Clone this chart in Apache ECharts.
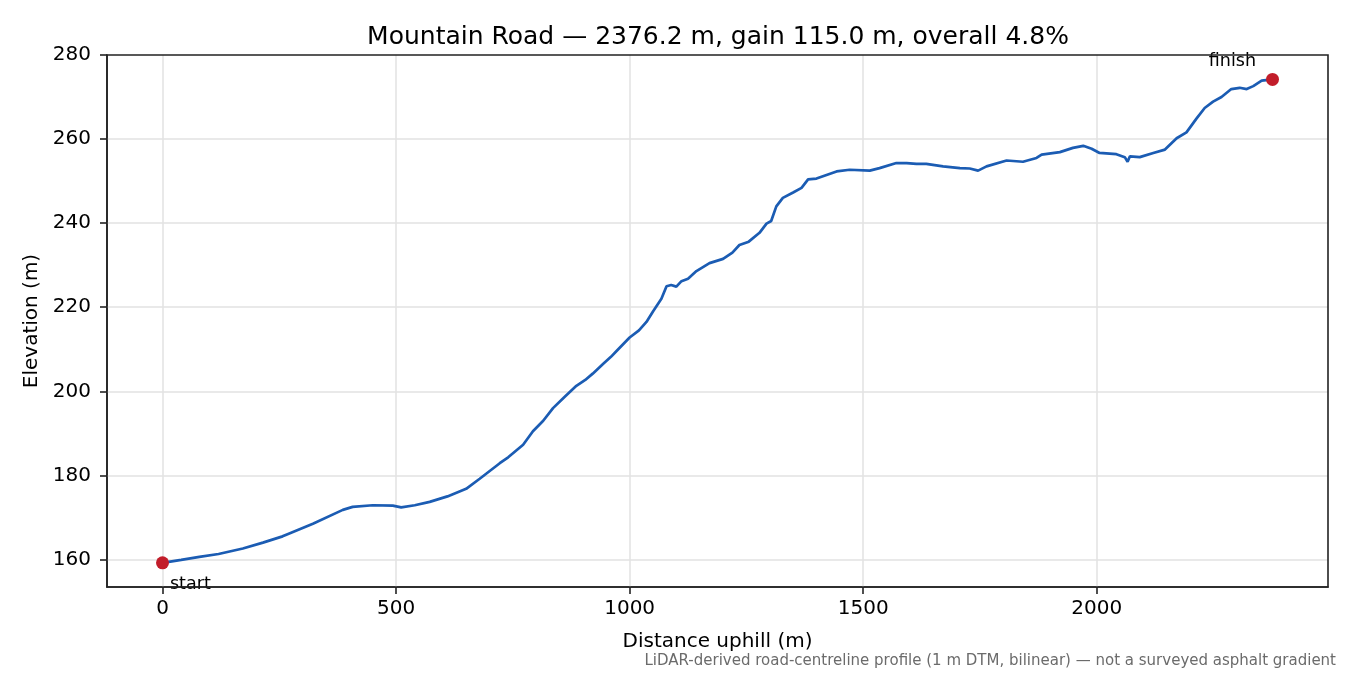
<!DOCTYPE html>
<html>
<head>
<meta charset="utf-8">
<script src="https://cdn.jsdelivr.net/npm/echarts@6/dist/echarts.min.js"></script>
<style>
html,body{margin:0;padding:0;background:#fff;}
#chart{width:1350px;height:675px;}
</style>
</head>
<body>
<div id="chart"></div>
<script>
const titleText = 'Mountain Road — 2376.2 m, gain 115.0 m, overall 4.8%';
const xName = 'Distance uphill (m)';
const yName = 'Elevation (m)';
const footnote = 'LiDAR-derived road-centreline profile (1 m DTM, bilinear) — not a surveyed asphalt gradient';

const distances = [0,40,79,120,172,215,257,265,322,386,407,450,493,511,540,572,610,650,679,722,740,772,793,815,836,860,886,905,921,943,960,972,1000,1020,1036,1050,1068,1079,1089,1100,1111,1125,1143,1171,1200,1220,1235,1255,1278,1293,1303,1314,1328,1350,1368,1382,1400,1443,1471,1514,1535,1571,1593,1614,1635,1671,1707,1728,1746,1764,1807,1842,1871,1882,1921,1949,1971,1989,2006,2042,2060,2066,2071,2092,2121,2146,2171,2192,2213,2231,2249,2267,2288,2306,2321,2335,2353,2376.2];
const elevations = [159.2,159.9,160.6,161.3,162.6,164.0,165.5,165.9,168.5,171.8,172.5,172.9,172.8,172.4,172.9,173.7,175.0,176.8,179.2,182.9,184.3,187.3,190.5,193.0,196.0,198.6,201.3,202.7,204.2,206.5,208.2,209.6,212.8,214.5,216.5,219.0,222.0,225.0,225.3,224.9,226.2,226.8,228.6,230.5,231.5,233.0,234.8,235.6,237.7,239.9,240.5,244.0,246.0,247.3,248.4,250.4,250.6,252.3,252.7,252.5,253.1,254.3,254.3,254.1,254.1,253.5,253.1,253.0,252.5,253.5,254.9,254.6,255.5,256.3,256.9,257.9,258.4,257.7,256.7,256.4,255.7,254.6,255.9,255.7,256.7,257.5,260.2,261.6,264.8,267.4,268.9,270.0,271.9,272.2,271.9,272.6,273.9,274.2];

const markerNames = ['start', 'finish'];
const markerX = [0, 2376.2];
const markerY = [159.2, 274.2];

const xTicks = [0, 500, 1000, 1500, 2000];
const yTicks = [160, 180, 200, 220, 240, 260, 280];

const X_MIN = -118.81, X_MAX = 2495.01, Y_MIN = 153.45, Y_MAX = 280;

const chart = echarts.init(document.getElementById('chart'), null, {renderer: 'canvas'});
const font = 'DejaVu Sans';
const axisColor = '#222';

const lineData = distances.map((d, i) => [d, elevations[i]]);
const markerData = markerNames.map((n, i) => ({
  name: n,
  value: [markerX[i], markerY[i]],
  label: i === 0
    ? {show: true, formatter: n, position: [14, 19], align: 'left', verticalAlign: 'top', color: '#000', fontSize: 17.5, fontFamily: font}
    : {show: true, formatter: n, position: [-10, -2], align: 'right', verticalAlign: 'bottom', color: '#000', fontSize: 17.5, fontFamily: font}
}));

const gridLines = [
  ...xTicks.filter(v => v > X_MIN && v < X_MAX).map(v => ({xAxis: v})),
  ...yTicks.filter(v => v > Y_MIN && v < Y_MAX).map(v => ({yAxis: v}))
];

chart.setOption({
  backgroundColor: '#fff',
  animation: false,
  textStyle: {fontFamily: font},
  title: {
    text: titleText,
    left: 713, top: 20, textAlign: 'center',
    textStyle: {fontFamily: font, fontSize: 25, fontWeight: 'normal', color: '#000'}
  },
  grid: {left: 107, right: 22, top: 55, bottom: 88, show: true, borderColor: axisColor, borderWidth: 1.6, backgroundColor: 'transparent', z: 10},
  xAxis: {
    type: 'value', min: X_MIN, max: X_MAX,
    name: xName, nameLocation: 'middle', nameGap: 45,
    nameTextStyle: {fontFamily: font, fontSize: 20, color: '#000'},
    axisLine: {show: true, onZero: false, lineStyle: {color: axisColor, width: 1.6}},
    axisTick: {show: true, length: 7, lineStyle: {color: axisColor, width: 1.6}, customValues: xTicks},
    axisLabel: {fontFamily: font, fontSize: 20, color: '#000', margin: 12, customValues: xTicks, formatter: v => String(v)},
    splitLine: {show: false}
  },
  yAxis: {
    type: 'value', min: Y_MIN, max: Y_MAX,
    name: yName, nameLocation: 'middle', nameGap: 58, nameRotate: 90,
    nameTextStyle: {fontFamily: font, fontSize: 20, color: '#000'},
    axisLine: {show: true, onZero: false, lineStyle: {color: axisColor, width: 1.6}},
    axisTick: {show: true, length: 7, lineStyle: {color: axisColor, width: 1.6}, customValues: yTicks},
    axisLabel: {fontFamily: font, fontSize: 20, color: '#000', margin: 16, customValues: yTicks, formatter: v => String(v)},
    splitLine: {show: false}
  },
  graphic: [{
    type: 'text', right: 14, top: 654,
    style: {text: footnote, font: '15px "DejaVu Sans"', fill: '#6b6b6b', textAlign: 'right'}
  }],
  series: [
    {
      type: 'line', data: lineData, showSymbol: false, smooth: false,
      lineStyle: {color: '#1b5cb3', width: 2.7},
      z: 3,
      markLine: {
        silent: true, symbol: 'none', label: {show: false},
        lineStyle: {color: '#e2e2e2', width: 1.5, type: 'solid'},
        data: gridLines, z: 1
      }
    },
    {
      type: 'scatter', data: markerData, symbolSize: 13,
      itemStyle: {color: '#c21d2a', opacity: 1},
      z: 5
    }
  ]
});
</script>
</body>
</html>
